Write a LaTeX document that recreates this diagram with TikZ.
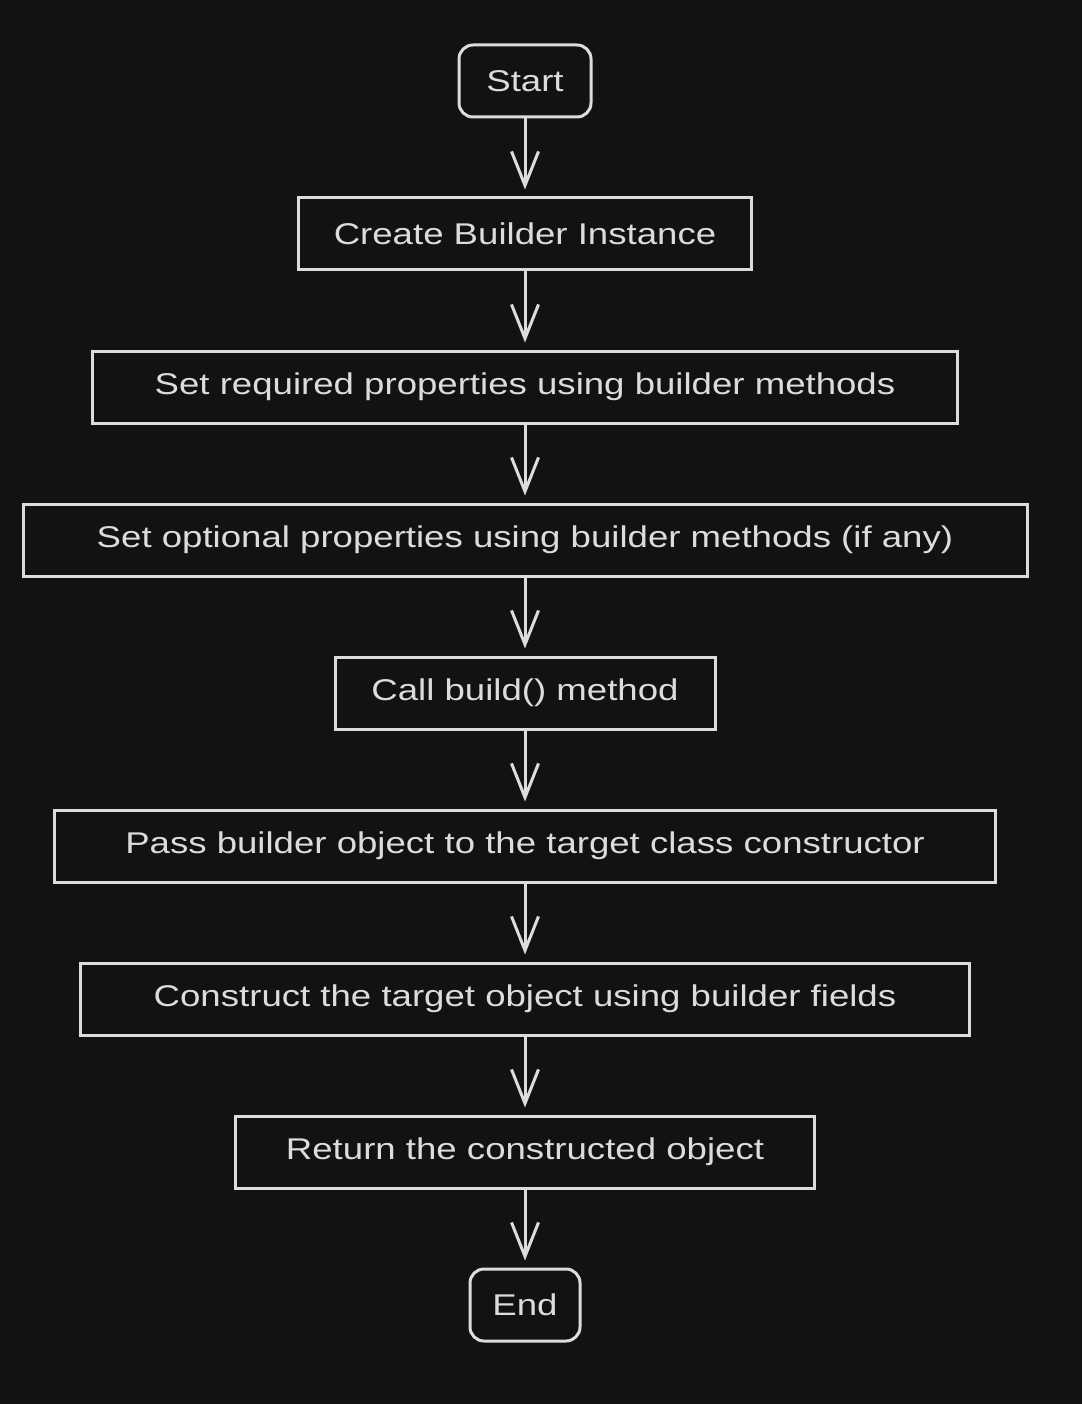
\documentclass[tikz,border=0pt]{standalone}
\usepackage{fontspec}
\setmainfont[FakeStretch=1.22]{Liberation Sans}
\usetikzlibrary{arrows.meta}
\definecolor{bg}{HTML}{121212}
\definecolor{ink}{HTML}{DCDCDC}
\begin{document}
\begin{tikzpicture}[x=1pt,y=-1pt,
  box/.style={draw=ink, line width=3pt, text=ink, minimum height=72pt,
    inner sep=0pt, font=\fontsize{30}{35}\selectfont},
  term/.style={box, rounded corners=14pt},
  flow/.style={draw=ink, line width=3pt, line cap=round,
    -{Straight Barb[length=34pt,width=27pt,line width=3pt]}, shorten >=7pt}]
\fill[bg] (0,0) rectangle (1082,1404);
\useasboundingbox (0,0) rectangle (1082,1404);

\node[term, minimum width=132pt] (start)    at (525,81)   {Start};
\node[box,  minimum width=453pt] (create)   at (525,234)  {Create Builder Instance};
\node[box,  minimum width=865pt] (required) at (525,387)  {Set required properties using builder methods};
\node[box,  minimum width=1004pt] (optional) at (525,540) {Set optional properties using builder methods (if any)};
\node[box,  minimum width=380pt] (build)    at (525,693)  {Call build() method};
\node[box,  minimum width=941pt] (pass)     at (525,846)  {Pass builder object to the target class constructor};
\node[box,  minimum width=889pt] (construct) at (525,999) {Construct the target object using builder fields};
\node[box,  minimum width=579pt] (return)   at (525,1152) {Return the constructed object};
\node[term, minimum width=110pt] (end)      at (525,1305) {End};

\draw[flow] (start.south) -- (create.north);
\draw[flow] (create.south) -- (required.north);
\draw[flow] (required.south) -- (optional.north);
\draw[flow] (optional.south) -- (build.north);
\draw[flow] (build.south) -- (pass.north);
\draw[flow] (pass.south) -- (construct.north);
\draw[flow] (construct.south) -- (return.north);
\draw[flow] (return.south) -- (end.north);
\end{tikzpicture}
\end{document}
